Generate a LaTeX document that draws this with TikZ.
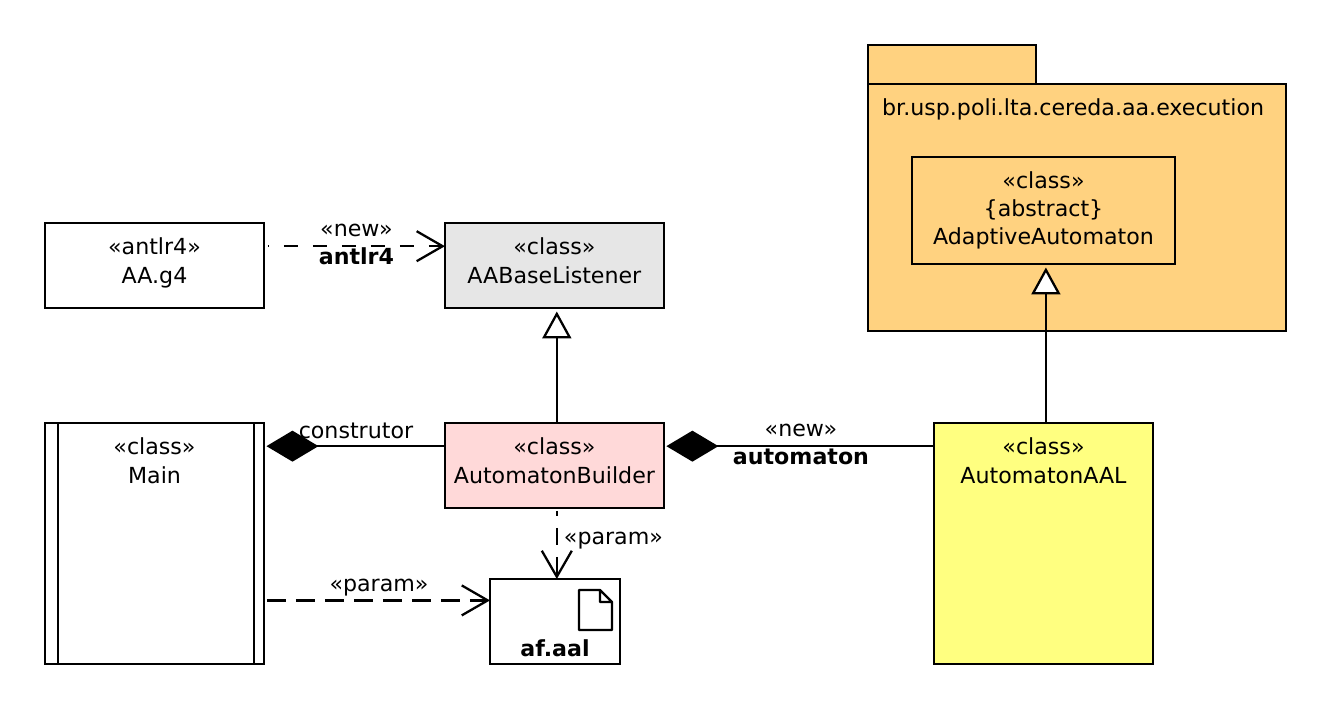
\documentclass[tikz,border=0pt]{standalone}
\usepackage{fontspec}
\setmainfont{DejaVu Sans}
\usetikzlibrary{arrows.meta, positioning, calc}
\definecolor{colorPaquete}{HTML}{FFD280}
\definecolor{colorBase}{HTML}{E6E6E6}
\definecolor{colorBuilder}{HTML}{FFD9D9}
\definecolor{colorAAL}{HTML}{FFFF80}

\begin{document}
\begin{tikzpicture}[x=0.02cm, y=-0.02cm, line width=1.3pt,
        font=\fontsize{12.6}{16}\selectfont, node distance=3.62cm,
        box/.style={draw, outer sep=0, inner sep=0},
        cl/.style={box, align=center, minimum width=4.38cm, minimum height=1.7cm},
        txt/.style={align=center, inner sep=0},
        ttl/.style={txt, anchor=north, yshift=-0.28cm},
        dep/.style={dash pattern=on 19*0.02cm off 10*0.02cm, -{Straight Barb[length=0.52cm, width=0.6cm, line width=1.3pt]}},
        comp/.style={-{Diamond[length=1.04cm, width=0.62cm, fill=black]}, shorten >=0.05cm},
        gen/.style={-{Triangle[length=0.54cm, width=0.58cm, open, fill=white]}, shorten >=0.07cm}]
        \path[use as bounding box] (0,0) rectangle (1333,711);
        % paquete
        \node[box, fill=colorPaquete, minimum width=3.36cm, minimum height=0.78cm] (tab) at (952,64.5) {};
        \node[box, fill=colorPaquete, minimum width=8.36cm, minimum height=4.94cm] (pkg) at (1077,207.5) {};
        \node[txt, anchor=west] (pkgname) at (881,109) {br.usp.poli.lta.cereda.aa.execution};
        \node[cl, fill=colorPaquete, minimum width=5.26cm, minimum height=2.14cm] (aut) at (1043.5,210.5) {«class»\\\{abstract\}\\AdaptiveAutomaton};
        % clases
        \node[cl] (g4) at (154.5,265.5) {};
        \node[ttl] (g4txt) at (g4.north) {«antlr4»\\AA.g4};
        \node[cl, fill=colorBase, right=of g4] (base) {};
        \node[ttl] (basetxt) at (base.north) {«class»\\AABaseListener};
        \node[cl, fill=colorBuilder, below=2.3cm of base] (builder) {};
        \node[ttl] (buildertxt) at (builder.north) {«class»\\AutomatonBuilder};
        \node[cl, minimum height=4.82cm] (main) at (154.5,543.5) {};
        \node[ttl] (maintxt) at (main.north) {«class»\\Main};
        \draw ($(main.north west)+(13,0)$) -- ($(main.south west)+(13,0)$);
        \draw ($(main.north east)+(-10,0)$) -- ($(main.south east)+(-10,0)$);
        \node[cl, fill=colorAAL, minimum height=4.82cm] (aal) at (1043.5,543.5) {};
        \node[ttl] (aaltxt) at (aal.north) {«class»\\AutomatonAAL};
        \node[box, fill=white, minimum width=2.6cm, minimum height=1.7cm] (af) at (555,621.5) {};
        \node[txt, anchor=south, font=\fontsize{12.6}{16}\selectfont\bfseries] (aftxt) at ($(af.south)+(0,-6)$) {af.aal};
        \draw[fill=white, line join=round] ($(af.north east)+(-41,11)$) -- ++(21,0) -- ++(12,12) -- ++(0,28) -- ++(-33,0) -- cycle
            ($(af.north east)+(-20,11)$) -- ++(0,12) -- ++(12,0);
        % relaciones
        \draw[dep, dash pattern=on 14*0.02cm off 15*0.02cm, dash phase=13*0.02cm, shorten <=0.08cm] (g4.east |- base.170) -- node[txt, yshift=0.04cm, xshift=0.04cm]{«new»\\\textbf{antlr4}} (base.170);
        \draw[gen] (builder.north) ++(2.4,0) coordinate (u) -- (u |- base.south);
        \draw[comp] (builder.170) -- node[txt, above=0.12cm, xshift=0.03cm]{construtor} (builder.170 -| main.east);
        \draw[comp] (aal.west |- builder.170) -- node[txt, yshift=0.04cm, xshift=0.04cm]{«new»\\\textbf{automaton}} (builder.170 -| builder.east);
        \draw[gen] (aal.north) ++(2.4,0) coordinate (v) -- (v |- aut.south);
        \draw[dep, dash pattern=on 17*0.02cm off 12*0.02cm, dash phase=12*0.02cm, shorten <=0.06cm] (u |- builder.south) -- node[txt, right=0.12cm, yshift=0.06cm]{«param»} (u |- af.north);
        \draw[dep, shorten <=0.06cm] (main.east |- af.162.95) -- node[txt, above=0.07cm, xshift=0.04cm]{«param»} (af.162.95);
    \end{tikzpicture}
\end{document}
